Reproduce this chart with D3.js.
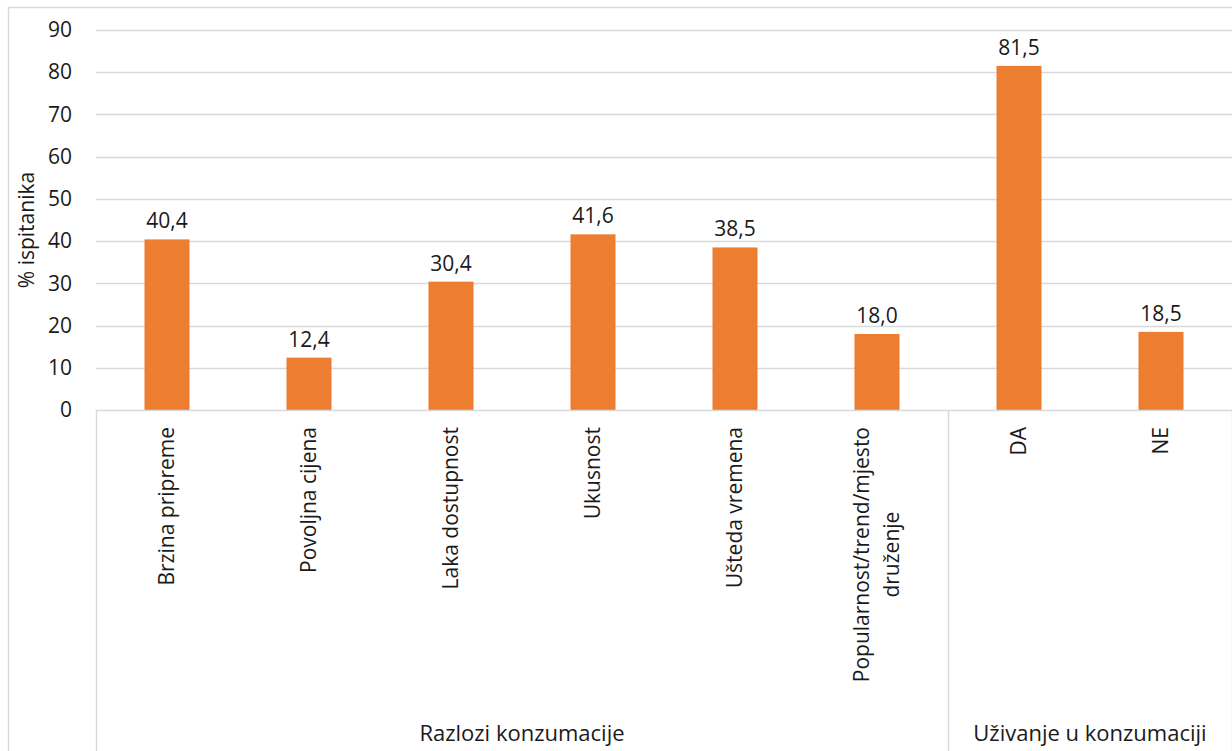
<!DOCTYPE html>
<html>
<head>
<meta charset="utf-8">
<script src="https://cdn.jsdelivr.net/npm/d3@7"></script>
<style>
  html, body { margin: 0; padding: 0; background: #fff; }
  svg { display: block; }
  text { font-family: "Open Sans", Lato, sans-serif; fill: #1a1a1a; }
</style>
</head>
<body>
<svg id="chart" width="1232" height="751"></svg>
<script>
// Categories (each may wrap onto several lines)
const categories = [
  ["Brzina pripreme"],
  ["Povoljna cijena"],
  ["Laka dostupnost"],
  ["Ukusnost"],
  ["Ušteda vremena"],
  ["Popularnost/trend/mjesto", "druženje"],
  ["DA"],
  ["NE"]
];
const values = [40.4, 12.4, 30.4, 41.6, 38.5, 18.0, 81.5, 18.5];
const groupNames = ["Razlozi konzumacije", "Uživanje u konzumaciji"];
const groupSizes = [6, 2];
const yTicks = [0, 10, 20, 30, 40, 50, 60, 70, 80, 90];
const yTitle = "% ispitanika";

const W = 1232, H = 751;
const m = { left: 96, right: 0, top: 30, bottom: 341 };
const FS = 21;
const svg = d3.select("#chart");

// outer chart frame
svg.append("rect")
  .attr("x", 8.5).attr("y", 7.5)
  .attr("width", W + 10).attr("height", H + 10)
  .attr("fill", "none").attr("stroke", "#d9d9d9").attr("stroke-width", 1.5);

const x = d3.scaleBand()
  .domain(d3.range(values.length))
  .range([m.left, W - m.right])
  .paddingInner(0.683).paddingOuter(0.3415);

const y = d3.scaleLinear().domain([0, 90]).range([H - m.bottom, m.top]);

const grid = "#d9d9d9";

// horizontal gridlines
svg.append("g")
  .selectAll("line")
  .data(yTicks.filter(t => t > 0))
  .join("line")
  .attr("x1", m.left).attr("x2", W - m.right)
  .attr("y1", d => Math.round(y(d)) + 0.5).attr("y2", d => Math.round(y(d)) + 0.5)
  .attr("stroke", grid).attr("stroke-width", 1.5);

// y axis labels
const yAxis = d3.axisLeft(y).tickValues(yTicks).tickSize(0).tickPadding(24);
const gy = svg.append("g").attr("transform", `translate(${m.left},0)`).call(yAxis);
gy.select(".domain").remove();
gy.selectAll("text")
  .attr("font-size", FS)
  .style("font-family", "'Open Sans', Lato, sans-serif")
  .attr("fill", "#1a1a1a");

// y axis title
svg.append("text")
  .attr("transform", `translate(34,${(y(0) + y(90)) / 2 + 10}) rotate(-90)`)
  .attr("text-anchor", "middle")
  .attr("font-size", FS)
  .text(yTitle);

// bars
svg.append("g")
  .selectAll("rect")
  .data(values)
  .join("rect")
  .attr("x", (d, i) => x(i))
  .attr("y", d => y(d))
  .attr("width", x.bandwidth())
  .attr("height", d => y(0) - y(d))
  .attr("fill", "#ED7D31");

// value labels
svg.append("g")
  .selectAll("text")
  .data(values)
  .join("text")
  .attr("x", (d, i) => x(i) + x.bandwidth() / 2)
  .attr("y", d => y(d) - 11)
  .attr("text-anchor", "middle")
  .attr("font-size", FS)
  .text(d => d.toFixed(1).replace(".", ","));

// baseline
svg.append("line")
  .attr("x1", m.left).attr("x2", W)
  .attr("y1", y(0) + 0.5).attr("y2", y(0) + 0.5)
  .attr("stroke", grid).attr("stroke-width", 1.5);

// group separators
const step = x.step();
let acc = 0;
const bounds = [m.left];
groupSizes.forEach(s => { acc += s; bounds.push(m.left + acc * step); });
svg.append("g")
  .selectAll("line")
  .data(bounds)
  .join("line")
  .attr("x1", d => Math.round(d) + 0.5).attr("x2", d => Math.round(d) + 0.5)
  .attr("y1", y(0)).attr("y2", H)
  .attr("stroke", grid).attr("stroke-width", 1.5);

// category labels (rotated, wrapped lines centred on the longest one)
const lh = 30;
svg.append("g")
  .selectAll("g")
  .data(categories)
  .join("g")
  .attr("transform", (d, i) => {
    const cx = x(i) + x.bandwidth() / 2;
    return `translate(${cx},${y(0) + 17}) rotate(-90)`;
  })
  .each(function (lines) {
    const g = d3.select(this);
    const texts = lines.map((ln, k) =>
      g.append("text")
        .attr("font-size", FS)
        .attr("y", -(lines.length - 1) * lh / 2 + k * lh + 7)
        .text(ln));
    const lens = texts.map(t => t.node().getComputedTextLength());
    const maxLen = d3.max(lens);
    texts.forEach((t, k) => t.attr("x", -maxLen / 2 - lens[k] / 2));
  });

// group labels
svg.append("g")
  .selectAll("text")
  .data(groupNames)
  .join("text")
  .attr("x", (d, i) => (bounds[i] + bounds[i + 1]) / 2)
  .attr("y", 741)
  .attr("text-anchor", "middle")
  .attr("font-size", 22)
  .text(d => d);
</script>
</body>
</html>
